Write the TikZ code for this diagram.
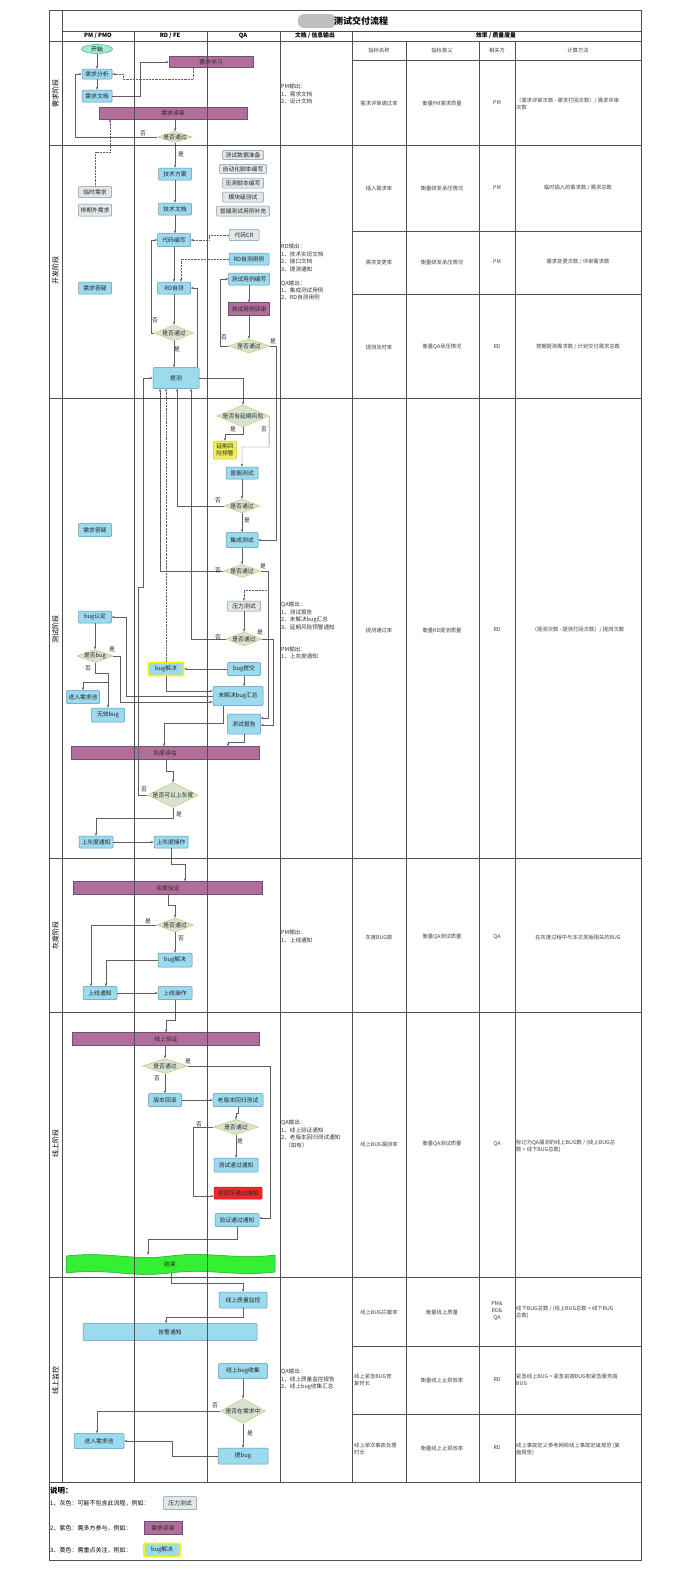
\documentclass[tikz,border=0pt]{standalone}
\usepackage{fontspec}
\setmainfont{Noto Sans CJK SC}
\usetikzlibrary{shapes.geometric,arrows.meta}
\definecolor{boxf}{RGB}{156,218,238}
\definecolor{boxb}{RGB}{84,150,190}
\definecolor{grayf}{RGB}{228,231,233}
\definecolor{grayb}{RGB}{120,150,170}
\definecolor{purf}{RGB}{177,110,152}
\definecolor{purb}{RGB}{110,80,130}
\definecolor{diaf}{RGB}{216,228,210}
\definecolor{diab}{RGB}{212,194,108}
\definecolor{yelf}{RGB}{240,240,90}
\definecolor{yelb}{RGB}{196,188,60}
\definecolor{hlc}{RGB}{246,242,0}
\definecolor{redf}{RGB}{238,40,40}
\definecolor{redb}{RGB}{170,30,30}
\definecolor{endf}{RGB}{52,240,52}
\definecolor{endb}{RGB}{40,160,40}
\definecolor{stf}{RGB}{160,238,204}
\definecolor{stb}{RGB}{90,170,140}
\definecolor{arc}{RGB}{95,95,95}
\definecolor{lanec}{RGB}{80,80,80}
\newcommand\fsbox{\fontsize{5.8}{6.8}\selectfont}
\newcommand\fsdoc{\fontsize{5.6}{7.4}\selectfont}
\newcommand\fstab{\fontsize{5.3}{7.2}\selectfont}
\tikzset{
 bx/.style={draw=boxb, fill=boxf, line width=0.5pt, rounded corners=1pt, inner sep=0pt, font=\fsbox, text=black!85},
 gbx/.style={bx, draw=grayb, fill=grayf},
 pbx/.style={bx, draw=purb, fill=purf, rounded corners=0pt},
 ybx/.style={bx, draw=hlc, line width=1.6pt},
 dia/.style={diamond, draw=diab, fill=diaf, line width=0.5pt, inner sep=0pt},
 ar/.style={draw=arc, line width=0.45pt, -{Stealth[length=3pt,width=2.4pt]}},
 dar/.style={ar, densely dotted},
 lb/.style={font=\fsbox, inner sep=0pt, text=black!85},
 lane/.style={draw=lanec, line width=0.8pt},
 tt/.style={font=\fstab, inner sep=0pt, text=black!75, align=center},
 ttl/.style={font=\fstab, inner sep=0pt, text=black!75, align=left, anchor=west},
 doc/.style={font=\fsdoc, inner sep=0pt, anchor=north west, align=left, text=black!80},
 hd/.style={font=\bfseries\fontsize{5.8}{6.5}\selectfont, inner sep=0pt},
 ph/.style={rotate=90, font=\fontsize{7}{8}\selectfont, inner sep=0pt},
}
\begin{document}
\begin{tikzpicture}[x=1pt,y=-1pt]
\useasboundingbox (0,0) rectangle (688,1574);
\fill[white] (0,0) rectangle (688,1574);

% title
\fill[black!25, rounded corners=6pt] (298,14) rectangle (336,28);
\node[font=\bfseries\fontsize{9}{10}\selectfont, anchor=west, inner sep=0pt] (title) at (334,21) {测试交付流程};
\node[hd] (h1) at (98,36) {PM / PMO};
\node[hd] (h2) at (170,36) {RD / FE};
\node[hd] (h3) at (243,36) {QA};
\node[hd] (h4) at (315,36) {文档 / 信息输出};
\node[hd] (h5) at (496,36) {效率 / 质量度量};
\node[tt] (s1) at (379,50) {指标名称};
\node[tt] (s2) at (442,50) {指标意义};
\node[tt] (s3) at (497,50) {相关方};
\node[tt] (s4) at (578,50) {计算方法};

% phase labels
\node[ph] (p1) at (55.5,93) {需求阶段};
\node[ph] (p2) at (55.5,270) {开发阶段};
\node[ph] (p3) at (55.5,629) {测试阶段};
\node[ph] (p4) at (55.5,935) {灰度阶段};
\node[ph] (p5) at (55.5,1143) {线上阶段};
\node[ph] (p6) at (55.5,1380) {线上监控};

% doc column
\node[doc] (doc1) at (281,84) {PM输出：\\1、需求文档\\2、设计文档};
\node[doc] (doc2) at (281,244) {RD输出：\\1、技术实现文档\\2、接口文档\\3、提测通知\\[6.6pt]QA输出：\\1、集成测试用例\\2、RD自测用例};
\node[doc] (doc3) at (281,602) {QA输出：\\1、测试报告\\2、未解决bug汇总\\3、延期风险预警通知\\[14.6pt]PM输出：\\1、上灰度通知};
\node[doc] (doc4) at (281,930) {PM输出：\\1、上线通知};
\node[doc] (doc5) at (281,1120) {QA输出：\\1、线上验证通知\\2、老版本回归测试通知\\\hspace{4pt}（如有）};
\node[doc] (doc6) at (281,1369) {QA输出：\\1、线上质量监控报告\\2、线上bug收集汇总};

% table
\node[tt] (t1a) at (379,103) {需求评审通过率};
\node[tt] (t1b) at (442,103) {衡量PM需求质量};
\node[tt] (t1c) at (497,103) {PM};
\node[ttl] (t1d) at (516,104) {（需求评审次数 - 需求打回次数）/ 需求评审\\次数};
\node[tt] (t2a) at (379,188) {插入需求率};
\node[tt] (t2b) at (442,188) {衡量研发承压情况};
\node[tt] (t2c) at (497,188) {PM};
\node[tt] (t2d) at (578,188) {临时插入的需求数 / 需求总数};
\node[tt] (t3a) at (379,262) {需求变更率};
\node[tt] (t3b) at (442,262) {衡量研发承压情况};
\node[tt] (t3c) at (497,262) {PM};
\node[tt] (t3d) at (578,262) {需求变更次数 / 评审需求数};
\node[tt] (t4a) at (379,347) {提测及时率};
\node[tt] (t4b) at (442,347) {衡量QA承压情况};
\node[tt] (t4c) at (497,347) {RD};
\node[tt] (t4d) at (578,347) {按期提测需求数 / 计划交付需求总数};
\node[tt] (t5a) at (379,630) {提测通过率};
\node[tt] (t5b) at (442,630) {衡量RD提测质量};
\node[tt] (t5c) at (497,630) {RD};
\node[tt] (t5d) at (578,630) {（提测次数 - 提测打回次数）/ 提测次数};
\node[tt] (t6a) at (379,937) {灰度BUG数};
\node[tt] (t6b) at (442,937) {衡量QA测试质量};
\node[tt] (t6c) at (497,937) {QA};
\node[tt] (t6d) at (578,937) {在灰度过程中与本次发版相关的BUG};
\node[tt] (t7a) at (379,1144) {线上BUG漏测率};
\node[tt] (t7b) at (442,1144) {衡量QA测试质量};
\node[tt] (t7c) at (497,1144) {QA};
\node[ttl] (t7d) at (516,1146) {标记为QA漏测的线上BUG数 / (线上BUG总\\数 + 线下BUG总数)};
\node[tt] (t8a) at (379,1312) {线上BUG拦截率};
\node[tt] (t8b) at (442,1312) {衡量线上质量};
\node[tt] (t8c) at (497,1311) {PM\&\\RD\&\\QA};
\node[ttl] (t8d) at (516,1312) {线下BUG总数 / (线上BUG总数 + 线下BUG\\总数)};
\node[ttl] (t9a) at (354,1380) {线上紧急BUG修\\复时长};
\node[tt] (t9b) at (442,1380) {衡量线上止损效率};
\node[tt] (t9c) at (497,1380) {RD};
\node[ttl] (t9d) at (516,1380) {紧急线上BUG = 紧急前端BUG和紧急服务端\\BUG};
\node[ttl] (t10a) at (354,1449) {线上单次事故处理\\时长};
\node[tt] (t10b) at (442,1448) {衡量线上止损效率};
\node[tt] (t10c) at (497,1448) {RD};
\node[ttl] (t10d) at (516,1449) {线上事故定义参考网校线上事故定级规范 (复\\盘报告)};

% ===== 需求阶段 =====
\node[ellipse, draw=stb, fill=stf, line width=0.5pt, inner sep=0pt, minimum width=31, minimum height=9, font=\fsbox] (start) at (97,49) {开始};
\node[bx, minimum width=30, minimum height=10] (xqfx) at (97,74) {需求分析};
\node[bx, minimum width=30, minimum height=12] (xqwd) at (97,96) {需求文档};
\node[pbx, minimum width=84, minimum height=11] (xqxx) at (211,62) {需求学习};
\node[pbx, minimum width=148, minimum height=12] (xqps) at (173,113) {需求评审};
\node[dia, minimum width=35, minimum height=11, label={[lb]center:是否通过}] (d1) at (175,137) {};

% ===== 开发阶段 =====
\node[gbx, minimum width=33, minimum height=11] (lsxq) at (95,192) {临时需求};
\node[gbx, minimum width=33, minimum height=12] (pqw) at (95,210) {排期外需求};
\node[bx, minimum width=33, minimum height=12] (xqdy1) at (95,288) {需求答疑};
\node[bx, minimum width=33, minimum height=12] (jsfa) at (175,174) {技术方案};
\node[bx, minimum width=33, minimum height=12] (jswd) at (175,209) {技术文档};
\node[bx, minimum width=33, minimum height=13] (dmbx) at (174,240) {代码编写};
\node[bx, minimum width=33, minimum height=12] (rdzc) at (174,288) {RD自测};
\node[dia, minimum width=39, minimum height=16, label={[lb]center:是否通过}] (d2) at (174,333) {};
\node[bx, minimum width=46, minimum height=21] (tc) at (176,378) {提测};
\node[gbx, minimum width=41, minimum height=9] (cssj) at (243,155) {测试数据准备};
\node[gbx, minimum width=47, minimum height=9] (zdh) at (243,169) {自动化脚本编写};
\node[gbx, minimum width=41, minimum height=10] (ycjb) at (243,183) {压测脚本编写};
\node[gbx, minimum width=41, minimum height=10] (mkj) at (243,197) {模块级测试};
\node[gbx, minimum width=53, minimum height=10] (mycl) at (243,211) {冒烟测试用例补充};
\node[gbx, minimum width=30, minimum height=11] (dmcr) at (244,235) {代码CR};
\node[bx, minimum width=40, minimum height=12] (rdyl) at (249,259) {RD自测用例};
\node[bx, minimum width=41, minimum height=12] (csyl) at (249,279) {测试用例编写};
\node[pbx, minimum width=41, minimum height=13] (csps) at (249,309) {测试用例评审};
\node[dia, minimum width=42, minimum height=14, label={[lb]center:是否通过}] (d3) at (249,346) {};

% ===== 测试阶段 =====
\node[dia, minimum width=52, minimum height=22, label={[lb]center:是否有延期风险}] (d4) at (243,416) {};
\node[bx, draw=yelb, fill=yelf, minimum width=23, minimum height=18, align=center] (yqfx) at (225,450) {延期风\\险预警};
\node[bx, minimum width=32, minimum height=12] (my) at (242,473) {冒烟测试};
\node[dia, minimum width=36, minimum height=14, label={[lb]center:是否通过}] (d5) at (242,506) {};
\node[bx, minimum width=32, minimum height=15] (jc) at (242,540) {集成测试};
\node[dia, minimum width=37, minimum height=13, label={[lb]center:是否通过}] (d6) at (242,571) {};
\node[gbx, minimum width=33, minimum height=10] (ylcs) at (244,606) {压力测试};
\node[dia, minimum width=36, minimum height=14, label={[lb]center:是否通过}] (d7) at (244,639) {};
\node[bx, minimum width=33, minimum height=13] (xqdy2) at (95,530) {需求答疑};
\node[bx, minimum width=33, minimum height=12] (bugrd) at (95,617) {bug认定};
\node[dia, minimum width=36, minimum height=13, label={[lb]center:是否bug}] (d8) at (95,656) {};
\node[bx, minimum width=33, minimum height=13] (jrxqc) at (83,697) {进入需求池};
\node[bx, minimum width=33, minimum height=14] (wxbug) at (108,715) {无效bug};
\node[ybx, minimum width=35, minimum height=13] (bugjj) at (166,669) {bug解决};
\node[bx, minimum width=33, minimum height=13] (bugtj) at (244,669) {bug提交};
\node[bx, minimum width=50, minimum height=19] (wjj) at (238,696) {未解决bug汇总};
\node[bx, minimum width=33, minimum height=20] (csbg) at (244,724) {测试报告};
\node[pbx, minimum width=188, minimum height=13] (hdpg) at (165,753) {灰度评估};
\node[dia, minimum width=51, minimum height=25, label={[lb]center:是否可以上灰度}] (d9) at (173,795) {};
\node[bx, minimum width=34, minimum height=12] (shdtz) at (96,842) {上灰度通知};
\node[bx, minimum width=34, minimum height=12] (shdcz) at (171,842) {上灰度操作};

% ===== 灰度阶段 =====
\node[pbx, minimum width=189, minimum height=13] (hdyz) at (168,888) {灰度验证};
\node[dia, minimum width=37, minimum height=14, label={[lb]center:是否通过}] (d10) at (175,925) {};
\node[bx, minimum width=34, minimum height=14] (bugjj2) at (175,960) {bug解决};
\node[bx, minimum width=34, minimum height=13] (sxtz) at (100,993) {上线通知};
\node[bx, minimum width=34, minimum height=13] (sxcz) at (175,993) {上线操作};

% ===== 线上阶段 =====
\node[pbx, minimum width=187, minimum height=13] (xsyz) at (166,1039) {线上验证};
\node[dia, minimum width=45, minimum height=15, label={[lb]center:是否通过}] (d11) at (165,1066) {};
\node[bx, minimum width=33, minimum height=13] (bbhg) at (165,1100) {版本回滚};
\node[bx, minimum width=50, minimum height=13] (lbb) at (238,1100) {老版本回归测试};
\node[dia, minimum width=45, minimum height=15, label={[lb]center:是否通过}] (d12) at (236,1127) {};
\node[bx, minimum width=44, minimum height=14] (cstg) at (236,1165) {测试通过通知};
\node[bx, draw=redb, fill=redf, minimum width=48, minimum height=12] (csbtg) at (238,1193) {测试不通过通知};
\node[bx, minimum width=44, minimum height=13] (yztg) at (237,1220) {验证通过通知};
\filldraw[fill=endf, draw=endb, line width=0.5pt] (66,1256) .. controls (110,1251) and (130,1261) .. (170,1256) .. controls (210,1251) and (235,1260) .. (275,1255) -- (275,1272) .. controls (235,1277) and (210,1268) .. (170,1273) .. controls (130,1278) and (110,1268) .. (66,1273) -- cycle;
\node[lb, minimum width=209, minimum height=18] (end) at (170,1264) {结束};

% ===== 线上监控 =====
\node[bx, minimum width=48, minimum height=16] (zljk) at (243,1300) {线上质量监控};
\node[bx, minimum width=174, minimum height=17] (gjtz) at (170,1332) {告警通知};
\node[bx, minimum width=49, minimum height=15] (bugsj) at (243,1371) {线上bug收集};
\node[dia, minimum width=45, minimum height=25, label={[lb]center:是否在需求中}] (d13) at (243,1411) {};
\node[bx, minimum width=50, minimum height=16] (tbug) at (243,1456) {提bug};
\node[bx, minimum width=50, minimum height=15] (jrxqc2) at (99,1441) {进入需求池};

% ===== legend =====
\node[anchor=west, inner sep=0pt, font=\bfseries\fontsize{7.5}{8}\selectfont] (sm) at (50,1491) {说明：};
\node[anchor=west, inner sep=0pt, font=\fontsize{6}{7}\selectfont] (lg1t) at (50,1503) {1、灰色：可能不包含此流程，例如：};
\node[gbx, minimum width=33, minimum height=13] (lg1) at (180,1503) {压力测试};
\node[anchor=west, inner sep=0pt, font=\fontsize{6}{7}\selectfont] (lg2t) at (50,1528) {2、紫色：需多方参与，例如：};
\node[pbx, minimum width=38, minimum height=13] (lg2) at (163,1528) {需求评审};
\node[anchor=west, inner sep=0pt, font=\fontsize{6}{7}\selectfont] (lg3t) at (50,1550) {3、黄色：需重点关注，例如：};
\node[ybx, minimum width=36, minimum height=13] (lg3) at (162,1550) {bug解决};

% ===== connectors: 需求 =====
\draw[ar] (start) -- (xqfx);
\draw[ar] (xqfx) -- (xqwd);
\draw[ar] (xqwd.east) -- (140,96) |- (xqxx.west);
\draw[dar] ([xshift=-18]xqxx.south) |- (123,79) |- (xqfx.east);
\draw[ar] (d1.north |- xqps.south) -- (d1.north);
\draw[ar] (d1.west) -- (75,137) |- (xqfx.west);
\draw[dar] (lsxq.north) |- (110,152) -- ([xshift=-63]xqps.south);
\draw[ar] (d1.south) -- (jsfa.north);
\node[lb] (l1) at (143,133) {否};
\node[lb] (l2) at (181,154) {是};

% ===== 开发 =====
\draw[ar] (jsfa) -- (jswd);
\draw[ar] (jswd.south) -- (jswd.south |- dmbx.north);
\draw[ar] (dmbx) -- (rdzc);
\draw[ar] (rdzc) -- (d2);
\draw[ar] (d2.south) -- (d2.south |- tc.north);
\draw[dar] (dmcr.west) -- (209,235) |- (dmbx.east);
\draw[dar] (rdyl.west) -| ([xshift=7]rdzc.north);
\draw[ar] (d2.west) -- ++(-3,0) |- (dmbx.west);
\draw[ar] ([xshift=21]tc.north) |- (rdzc.east);
\draw[ar] (csyl) -- (csps);
\draw[ar] (csps) -- (d3);
\draw[ar] (d3.west) -- (220,346) |- (csyl.west);
\draw[ar] (d3.east) -- (276,346) |- (jc.east);
\draw[ar] (tc.east) -| (d4.north);
\node[lb] (l3) at (155,320) {否};
\node[lb] (l4) at (177,349) {是};
\node[lb] (l5) at (224,337) {否};
\node[lb] (l6) at (273,341) {是};

% ===== 测试 =====
\draw[ar] (d4.south) -- (243,434) -| (yqfx.north);
\draw[ar] (d4.east) -- (269,447) -| (my.north);
\draw[ar] (my) -- (d5);
\draw[ar] (d5.west) -| ([xshift=1]tc.south);
\draw[ar] (d5) -- (jc);
\draw[ar] (jc) -- (d6);
\draw[ar] (d6.west) -| ([xshift=-16]tc.south);
\draw[ar] (d6.east) -- (268,571) |- ([yshift=6]csbg.east);
\draw[dar] (268,590) -| (ylcs.north);
\draw[ar] (ylcs) -- (d7);
\draw[ar] (d7.west) -| ([xshift=15]tc.south);
\draw[ar] (d7.east) -- (273,639) |- ([yshift=-1]csbg.east);
\draw[ar] (bugtj.west) -- (bugjj.east);
\draw[ar] (bugtj.south) -- (bugtj.south |- wjj.north);
\draw[ar] (bugjj.south) |- ([yshift=5]wjj.west);
\draw[dar] (bugjj.north) -- (bugjj.north |- tc.south);
\draw[ar] (bugrd) -- (d8);
\draw[ar] (d8.east) -- (120,656) |- ([yshift=-6]wjj.west);
\draw[ar] (wjj.west) -- (126,696) |- (bugrd.east);
\draw[ar] (d8.south) -- (95,673) -| (wxbug.north);
\draw[ar] (108,682) -| (jrxqc.north);
\draw[ar] ([xshift=-15]wjj.south) -- (223,723) -| ([xshift=-1]hdpg.north);
\draw[ar] (csbg.south) -- (244,742) -| ([xshift=63]hdpg.north);
\draw[ar] ([xshift=1]hdpg.south) -- (166,771) -| (d9.north);
\draw[ar] (d9.west) -- (138,795) -- (138,587) -- (143,587) |- (tc.west);
\draw[ar] (d9.south) -- (173,818) -| (shdtz.north);
\draw[ar] (shdtz) -- (shdcz);
\draw[ar] (shdcz.south) -- (171,864) -| ([xshift=17]hdyz.north);
\node[lb] (l7) at (233,429) {是};
\node[lb] (l8) at (264,429) {否};
\node[lb] (l9) at (218,500) {否};
\node[lb] (l10) at (247,520) {是};
\node[lb] (l11) at (218,570) {否};
\node[lb] (l12) at (263,566) {是};
\node[lb] (l13) at (218,637) {否};
\node[lb] (l14) at (260,632) {是};
\node[lb] (l15) at (112,649) {是};
\node[lb] (l16) at (88,668) {否};
\node[lb] (l17) at (144,789) {否};
\node[lb] (l18) at (179,814) {是};

% ===== 灰度 =====
\draw[ar] (hdyz.south) -- (168,905) -| (d10.north);
\draw[ar] (d10.west) -| ([xshift=-9]sxtz.north);
\draw[ar] (d10) -- (bugjj2);
\draw[ar] (bugjj2.west) -| ([xshift=6]sxtz.north);
\draw[ar] (sxtz) -- (sxcz);
\draw[ar] (sxcz.south) -- (175,1020) -| (xsyz.north);
\node[lb] (l19) at (148,921) {是};
\node[lb] (l20) at (181,938) {否};

% ===== 线上 =====
\draw[ar] (d11.north |- xsyz.south) -- (d11.north);
\draw[ar] (d11.east) -- (270,1066) |- ([yshift=2]yztg.east);
\draw[ar] (d11) -- (bbhg);
\draw[ar] (bbhg) -- (lbb);
\draw[ar] (lbb.south) -- (238,1113) -| (d12.north);
\draw[ar] (d12.west) -- (193,1127) |- ([yshift=-3]csbtg.west);
\draw[ar] (d12.south) -- (d12.south |- cstg.north);
\draw[ar] (yztg.south) -- (237,1239) -| ([xshift=-22]end.north);
\node[lb] (l21) at (188,1061) {是};
\node[lb] (l22) at (157,1078) {否};
\node[lb] (l23) at (199,1124) {否};
\node[lb] (l24) at (240,1141) {是};

% ===== 监控 =====
\draw[ar] ([xshift=1]end.south) -- (171,1283) -| (zljk.north);
\draw[ar] (zljk.south) -- (243,1317) -| ([xshift=-4]gjtz.north);
\draw[ar] (bugsj) -- (d13);
\draw[ar] (d13.west) -| ([xshift=-2]jrxqc2.north);
\draw[ar] (d13) -- (tbug);
\draw[ar] (tbug.west) -- (172,1456) |- (jrxqc2.east);
\node[lb] (l25) at (215,1405) {否};
\node[lb] (l26) at (250,1433) {是};

% ===== lanes and table grid =====
\draw[lane] (49,10) rectangle (641,1560);
\draw[lane] (62,10) -- (62,1482);
\draw[lane] (62,31) -- (641,31);
\draw[lane] (49,41) -- (641,41);
\foreach \xx in {134,207,280,352} {\draw[lane] (\xx,31) -- (\xx,1482);}
\foreach \xx in {406,479,515} {\draw[lane] (\xx,41) -- (\xx,1482);}
\foreach \yy in {145,398,858,1012,1277,1482} {\draw[lane] (49,\yy) -- (641,\yy);}
\foreach \yy in {60,231,294,1346,1414} {\draw[lane] (352,\yy) -- (641,\yy);}
\end{tikzpicture}
\end{document}
